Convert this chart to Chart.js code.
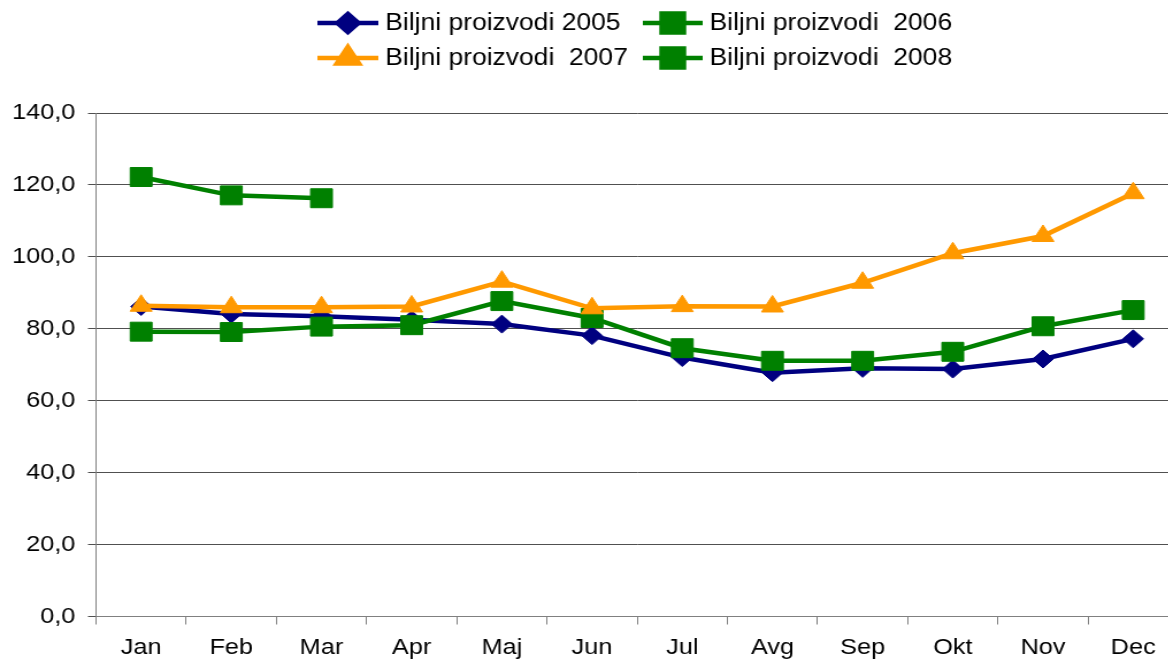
<!DOCTYPE html>
<html>
<head>
<meta charset="utf-8">
<script src="https://cdn.jsdelivr.net/npm/chart.js@4/dist/chart.umd.min.js"></script>
<style>
  html, body { margin: 0; padding: 0; background: #fff; overflow: hidden; }
  /* the source picture is stretched sideways, so the whole chart is too */
  #wrap { width: 1039px; height: 659px; transform: scaleX(1.15); transform-origin: 0 0; }
</style>
</head>
<body>
<div id="wrap"><canvas id="chart"></canvas></div>
<script>
// Categories (months)
const months = ['Jan', 'Feb', 'Mar', 'Apr', 'Maj', 'Jun', 'Jul', 'Avg', 'Sep', 'Okt', 'Nov', 'Dec'];

// Series values
const values2005 = [86.2, 84.1, 83.5, 82.5, 81.3, 78.1, 72.0, 67.8, 69.0, 68.8, 71.6, 77.2];
const values2006 = [79.2, 79.1, 80.6, 81.0, 87.7, 83.0, 74.6, 71.1, 71.1, 73.6, 80.7, 85.2];
const values2007 = [86.4, 86.0, 86.0, 86.2, 93.1, 85.7, 86.3, 86.2, 92.8, 101.0, 105.8, 117.7];
const values2008 = [122.2, 117.1, 116.3, null, null, null, null, null, null, null, null, null];

// Series names
const seriesNames = ['Biljni proizvodi 2005', 'Biljni proizvodi  2006', 'Biljni proizvodi  2007', 'Biljni proizvodi  2008'];

// Y axis range
const yMin = 0;
const yMax = 140;
const yStep = 20;

const NAVY = '#000080';
const GREEN = '#008000';
const ORANGE = '#FF9900';
const FONT = "'Liberation Sans', Arial, sans-serif";

// Function to build one line dataset
function makeSeries(label, data, color, style, radius, order) {
  return {
    label: label,
    data: data,
    borderColor: color,
    backgroundColor: color,
    borderWidth: 4.5,
    pointStyle: style,
    pointRadius: radius,
    pointHoverRadius: radius,
    pointBackgroundColor: color,
    pointBorderColor: color,
    pointBorderWidth: 1,
    tension: 0,
    spanGaps: false,
    order: order,
  };
}

// Legend slots: two rows, two columns (line start, line end, text x, row y)
const legendSlots = [
  { x0: 276, x1: 329, tx: 335, y: 23 },
  { x0: 559, x1: 611, tx: 617, y: 23 },
  { x0: 276, x1: 329, tx: 335, y: 58 },
  { x0: 559, x1: 611, tx: 617, y: 58 },
];

// Legend drawn like the spreadsheet one: line with marker in the middle
const lineLegend = {
  id: 'lineLegend',
  afterDraw(chart) {
    const ctx = chart.ctx;
    ctx.save();
    chart.data.datasets.forEach((ds, i) => {
      const s = legendSlots[i];
      ctx.strokeStyle = ds.borderColor;
      ctx.lineWidth = 4.5;
      ctx.beginPath();
      ctx.moveTo(s.x0, s.y);
      ctx.lineTo(s.x1, s.y);
      ctx.stroke();
      ctx.fillStyle = ds.backgroundColor;
      ctx.strokeStyle = ds.borderColor;
      Chart.helpers.drawPoint(ctx, { pointStyle: ds.pointStyle, radius: ds.pointRadius, borderWidth: 1, rotation: 0 }, (s.x0 + s.x1) / 2, s.y);
      ctx.fillStyle = '#000';
      ctx.font = '23px ' + FONT;
      ctx.textAlign = 'left';
      ctx.textBaseline = 'middle';
      ctx.fillText(ds.label, s.tx, s.y + 1);
    });
    ctx.restore();
  },
};

const ctx = document.getElementById('chart').getContext('2d');
const chart = new Chart(ctx, {
  type: 'line',
  data: {
    labels: months,
    datasets: [
      makeSeries(seriesNames[0], values2005, NAVY, 'rectRot', 9, 4),
      makeSeries(seriesNames[1], values2006, GREEN, 'rect', 13.4, 3),
      makeSeries(seriesNames[2], values2007, ORANGE, 'triangle', 11, 2),
      makeSeries(seriesNames[3], values2008, GREEN, 'rect', 13.4, 1),
    ],
  },
  options: {
    responsive: true,
    maintainAspectRatio: false,
    animation: false,
    layout: { padding: { top: 113, right: 7, left: 0, bottom: 0 } },
    plugins: {
      legend: { display: false },
      tooltip: { enabled: false },
    },
    scales: {
      x: {
        offset: true,
        grid: {
          display: true,
          offset: true,
          drawOnChartArea: false,
          drawTicks: true,
          tickLength: 8,
          color: '#808080',
        },
        border: { display: true, color: '#808080', width: 1 },
        ticks: {
          color: '#000',
          font: { family: FONT, size: 22 },
          padding: 10,
          maxRotation: 0,
          autoSkip: false,
        },
        afterFit(scale) {
          scale.height = 42.5;
        },
      },
      y: {
        min: yMin,
        max: yMax,
        grid: {
          color: '#505050',
          lineWidth: 1,
          drawTicks: true,
          tickLength: 7,
        },
        border: { display: true, color: '#808080', width: 1 },
        ticks: {
          stepSize: yStep,
          color: '#000',
          font: { family: FONT, size: 22 },
          padding: 11,
          callback: (v) => v.toFixed(1).replace('.', ','),
        },
        afterFit(scale) {
          scale.width = 83.5;
        },
      },
    },
  },
  plugins: [lineLegend],
});
</script>
</body>
</html>
